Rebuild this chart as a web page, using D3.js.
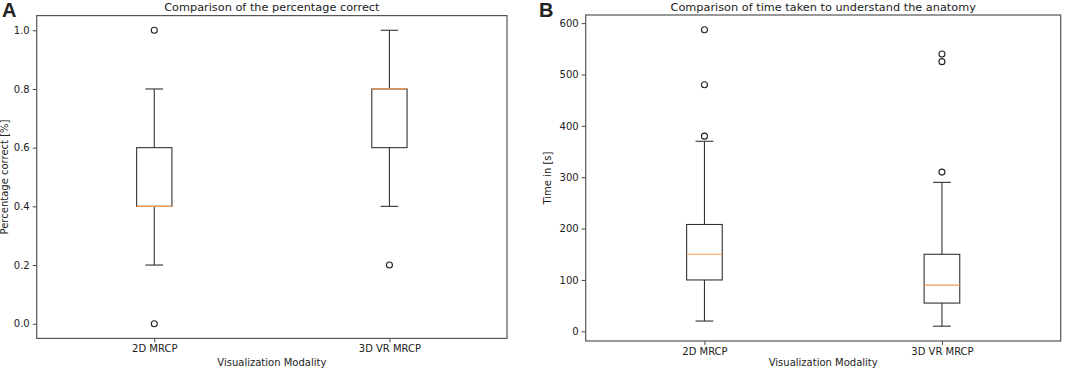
<!DOCTYPE html>
<html>
<head>
<meta charset="utf-8">
<script src="https://cdn.jsdelivr.net/npm/d3@7"></script>
<style>
  body { margin: 0; background: #fff; }
  svg text { font-family: "DejaVu Sans", sans-serif; fill: #222; }
</style>
</head>
<body>
<svg id="chart" width="1077" height="372"></svg>
<script>
// categories shared by both panels
const modalities = ["2D MRCP", "3D VR MRCP"];

// panel A: percentage correct (whiskerLow, q1, median, q3, whiskerHigh)
const pctStats = [
    [0.2, 0.4, 0.4, 0.6, 0.8],
    [0.4, 0.6, 0.8, 0.8, 1.0]
];
const pctOutliers = [[1.0, 0.0], [0.2]];
const pctTicks = [0.0, 0.2, 0.4, 0.6, 0.8, 1.0];

// panel B: time in seconds
const timeStats = [
    [20, 100, 150, 208, 370],
    [10, 55, 90, 150, 290]
];
const timeOutliers = [[380, 480, 587], [310, 525, 540]];
const timeTicks = [0, 100, 200, 300, 400, 500, 600];

const svg = d3.select("#chart");

function drawPanel(cfg) {
    const g = svg.append("g");

    // matplotlib style 5% padding around data range
    let all = [];
    cfg.stats.forEach(s => all = all.concat(s));
    cfg.outliers.forEach(o => all = all.concat(o));
    const lo = d3.min(all), hi = d3.max(all);
    const pad = (hi - lo) * 0.05;

    const y = d3.scaleLinear()
        .domain([lo - pad, hi + pad])
        .range([cfg.bottom, cfg.top]);

    const x = d3.scaleLinear()
        .domain([0.5, 2.5])
        .range([cfg.left, cfg.right]);

    const boxW = x(1.15) - x(1);
    const capW = boxW / 2;

    // axes
    g.append("g")
        .attr("transform", `translate(${cfg.left},0)`)
        .call(d3.axisLeft(y).tickValues(cfg.ticks).tickFormat(cfg.fmt).tickSize(4).tickPadding(3))
        .call(a => a.select(".domain").remove())
        .call(a => a.selectAll("line").attr("stroke", "#444"))
        .call(a => a.selectAll("text").style("font-size", "10px").attr("fill", "#222"));

    g.append("g")
        .attr("transform", `translate(0,${cfg.bottom})`)
        .call(d3.axisBottom(x).tickValues([1, 2]).tickFormat((d, i) => modalities[i]).tickSize(4).tickPadding(3))
        .call(a => a.select(".domain").remove())
        .call(a => a.selectAll("line").attr("stroke", "#444"))
        .call(a => a.selectAll("text").style("font-size", "10px").attr("fill", "#222"));

    // frame
    g.append("rect")
        .attr("x", cfg.left)
        .attr("y", cfg.top)
        .attr("width", cfg.right - cfg.left)
        .attr("height", cfg.bottom - cfg.top)
        .attr("fill", "none")
        .attr("stroke", "#555")
        .attr("stroke-width", 1.2);

    // boxes
    cfg.stats.forEach((s, i) => {
        const cx = x(i + 1);
        const [wl, q1, med, q3, wh] = s;
        const bg = g.append("g").attr("stroke", "#333").attr("stroke-width", 1.1).attr("fill", "none");

        bg.append("line").attr("x1", cx).attr("x2", cx).attr("y1", y(q3)).attr("y2", y(wh));
        bg.append("line").attr("x1", cx).attr("x2", cx).attr("y1", y(q1)).attr("y2", y(wl));
        bg.append("line").attr("x1", cx - capW / 2).attr("x2", cx + capW / 2).attr("y1", y(wh)).attr("y2", y(wh));
        bg.append("line").attr("x1", cx - capW / 2).attr("x2", cx + capW / 2).attr("y1", y(wl)).attr("y2", y(wl));
        bg.append("rect")
            .attr("x", cx - boxW / 2)
            .attr("y", y(q3))
            .attr("width", boxW)
            .attr("height", y(q1) - y(q3));
        g.append("line")
            .attr("x1", cx - boxW / 2).attr("x2", cx + boxW / 2)
            .attr("y1", y(med)).attr("y2", y(med))
            .attr("stroke", "#f09a50")
            .attr("stroke-width", 1.2);

        g.selectAll(null)
            .data(cfg.outliers[i])
            .enter()
            .append("circle")
            .attr("cx", cx)
            .attr("cy", d => y(d))
            .attr("r", 3)
            .attr("fill", "none")
            .attr("stroke", "#222")
            .attr("stroke-width", 1.1);
    });

    // titles and labels
    g.append("text")
        .attr("x", (cfg.left + cfg.right) / 2)
        .attr("y", cfg.top - 4.5)
        .attr("text-anchor", "middle")
        .style("font-size", "11.3px")
        .text(cfg.title);

    g.append("text")
        .attr("x", (cfg.left + cfg.right) / 2)
        .attr("y", 366)
        .attr("text-anchor", "middle")
        .style("font-size", "10px")
        .text("Visualization Modality");

    g.append("text")
        .attr("transform", `translate(${cfg.ylabX},${(cfg.top + cfg.bottom) / 2}) rotate(-90)`)
        .attr("text-anchor", "middle")
        .style("font-size", "10px")
        .text(cfg.ylabel);

    g.append("text")
        .attr("x", cfg.letterX)
        .attr("y", 17)
        .style("font-family", "'Liberation Sans', Arial, sans-serif")
        .style("font-weight", "bold")
        .style("font-size", "20px")
        .attr("fill", "#111")
        .text(cfg.letter);
}

drawPanel({
    letter: "A", letterX: 2,
    title: "Comparison of the percentage correct",
    ylabel: "Percentage correct [%]",
    stats: pctStats, outliers: pctOutliers, ticks: pctTicks,
    fmt: d3.format(".1f"),
    left: 36.7, right: 507, top: 15.6, bottom: 338.4, ylabX: 8
});

drawPanel({
    letter: "B", letterX: 539,
    title: "Comparison of time taken to understand the anatomy",
    ylabel: "Time in [s]",
    stats: timeStats, outliers: timeOutliers, ticks: timeTicks,
    fmt: d3.format("d"),
    left: 585.7, right: 1060.7, top: 15, bottom: 341, ylabX: 551
});
</script>
</body>
</html>
